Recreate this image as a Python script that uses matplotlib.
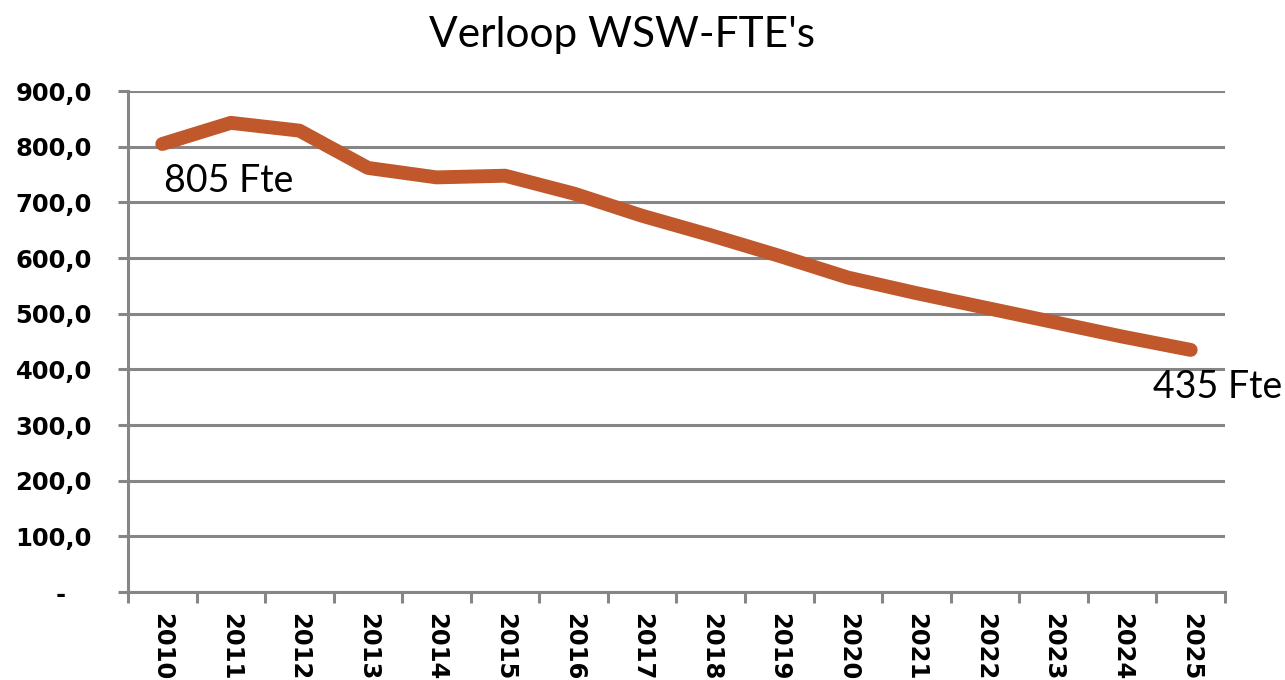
import matplotlib
matplotlib.use("Agg")
import matplotlib.pyplot as plt
import numpy as np
from matplotlib.ticker import FuncFormatter

jaren = [str(j) for j in range(2010, 2026)]
fte = [805, 843, 829, 762, 745, 748, 716, 676, 641, 604, 565, 537, 511, 485, 459, 435]
y_ticks = [0, 100, 200, 300, 400, 500, 600, 700, 800, 900]

grijs = "#868686"
lijnkleur = "#C0582C"

fig = plt.figure(figsize=(12.85, 6.8), dpi=100)
ax = fig.add_axes([0.0996, 0.1294, 0.8537, 0.7366])

x = np.arange(len(jaren))
ax.plot(x, fte, color=lijnkleur, lw=10, solid_capstyle="round", solid_joinstyle="round", zorder=3)

ax.set_xlim(-0.5, len(jaren) - 0.5)
ax.set_ylim(0, 900)
ax.set_yticks(y_ticks)
ax.yaxis.set_major_formatter(FuncFormatter(lambda v, p: "-   " if v == 0 else f"{v:.1f}".replace(".", ",")))
ax.grid(axis="y", color=grijs, lw=2.2)
ax.set_axisbelow(True)

# labels in het midden, streepjes op de grenzen
ax.set_xticks(x)
ax.set_xticklabels(jaren, rotation=-90, fontsize=17.5, fontweight="bold")
ax.set_xticks(np.arange(-0.5, len(jaren)), minor=True)
ax.tick_params(axis="x", which="major", length=0, pad=15)
ax.tick_params(axis="x", which="minor", length=8, width=2.2, color=grijs)
ax.tick_params(axis="y", length=7, width=2.2, color=grijs, pad=19, labelsize=17.5)
for t in ax.get_yticklabels():
    t.set_fontweight("bold")

for s in ["top", "right"]:
    ax.spines[s].set_visible(False)
for s in ["left", "bottom"]:
    ax.spines[s].set_color(grijs)
    ax.spines[s].set_linewidth(2.2)

ax.text(0.02, fte[0] - 35, f"{fte[0]} Fte", fontsize=27, family="Lato", va="top", ha="left")
ax.text(14.45, fte[-1] - 35, f"{fte[-1]} Fte", fontsize=27, family="Lato", va="top", ha="left", clip_on=False)

fig.text(0.484, 0.948, "Verloop WSW-FTE's", fontsize=30.5, family="Lato", ha="center", va="center")

fig.savefig("out.png", dpi=100)
